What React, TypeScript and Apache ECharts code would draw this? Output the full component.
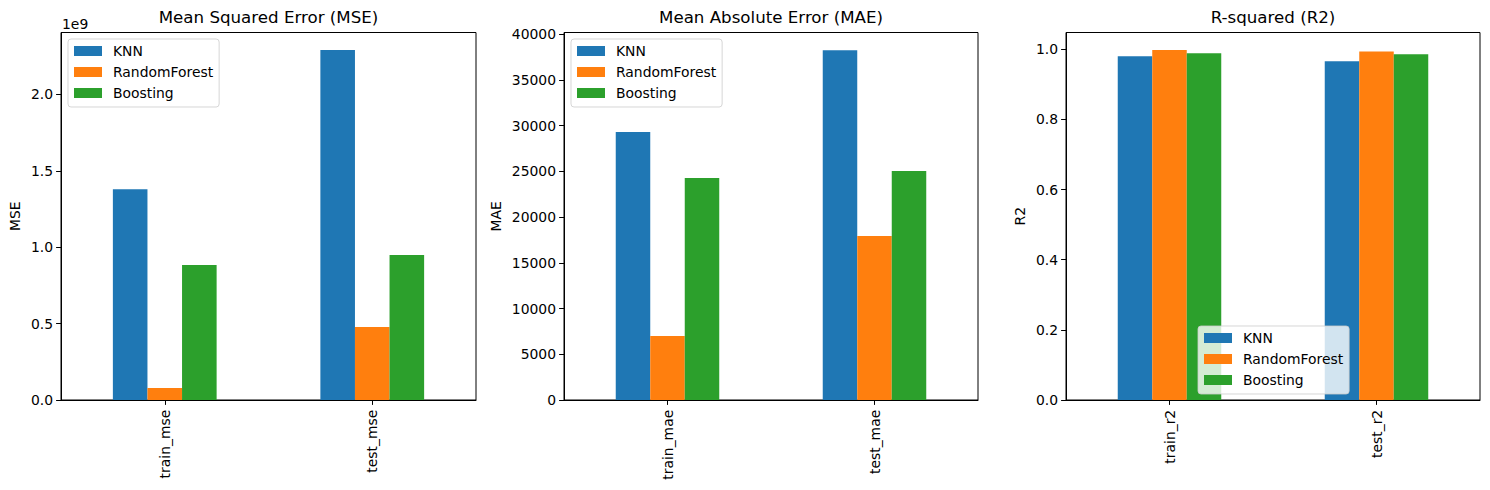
import React, { useEffect, useRef } from "react";
import * as echarts from "echarts";

const seriesNames = ["KNN", "RandomForest", "Boosting"];
const colors = ["#1f77b4", "#ff7f0e", "#2ca02c"];

const catMSE = ["train_mse", "test_mse"];
const knnMSE = [1.38e9, 2.29e9];
const rfMSE = [0.079e9, 0.478e9];
const boostMSE = [0.884e9, 0.949e9];

const catMAE = ["train_mae", "test_mae"];
const knnMAE = [29320, 38270];
const rfMAE = [7000, 17940];
const boostMAE = [24290, 25050];

const catR2 = ["train_r2", "test_r2"];
const knnR2 = [0.98, 0.966];
const rfR2 = [0.998, 0.994];
const boostR2 = [0.989, 0.986];

const titles = ["Mean Squared Error (MSE)", "Mean Absolute Error (MAE)", "R-squared (R2)"];
const yNames = ["MSE", "MAE", "R2"];

const FONT = "DejaVu Sans";
const FS = 13.9;

export default function App() {
  const ref = useRef<HTMLDivElement>(null);
  useEffect(() => {
    if (!ref.current) return;
    const chart = echarts.init(ref.current, undefined, { renderer: "svg" });
    const grids = [
      { left: 61, top: 32.5, width: 415, height: 367.5 },
      { left: 564, top: 32.5, width: 414, height: 367.5 },
      { left: 1066, top: 32.5, width: 414, height: 367.5 },
    ];
    const cats = [catMSE, catMAE, catR2];
    const data = [
      [knnMSE, rfMSE, boostMSE],
      [knnMAE, rfMAE, boostMAE],
      [knnR2, rfR2, boostR2],
    ];
    const yCfg = [
      { max: 2.405e9, interval: 0.5e9, fmt: (v: number) => (v / 1e9).toFixed(1), step: 0.5e9 },
      { max: 40200, interval: 5000, fmt: (v: number) => String(Math.round(v)), step: 5000 },
      { max: 1.048, interval: 0.2, fmt: (v: number) => v.toFixed(1), step: 0.2 },
    ];
    const nameGaps = [39, 61, 39];
    const legendPos = [
      { left: 68, top: 39 },
      { left: 571, top: 39 },
      { left: 1198, top: 326 },
    ];

    const series: any[] = [];
    data.forEach((grp, gi) => {
      grp.forEach((vals, si) => {
        series.push({
          type: "bar",
          name: seriesNames[si],
          xAxisIndex: gi,
          yAxisIndex: gi,
          data: vals,
          barWidth: "16.667%",
          barGap: "0%",
          itemStyle: { color: colors[si] },
        });
      });
    });

    const option: any = {
      animation: false,
      textStyle: { fontFamily: FONT },
      grid: grids.map((g) => ({
        ...g,
        show: true,
        borderColor: "#000",
        borderWidth: 1,
        backgroundColor: "#fff",
      })),
      xAxis: cats.map((c, i) => ({
        type: "category",
        gridIndex: i,
        data: c,
        boundaryGap: true,
        axisLine: { show: true, lineStyle: { color: "#000", width: 1 } },
        axisTick: { show: true, alignWithLabel: true, length: 4.9, lineStyle: { color: "#000" } },
        axisLabel: {
          rotate: 90,
          margin: 9.8,
          color: "#000",
          fontFamily: FONT,
          fontSize: FS,
        },
        splitLine: { show: false },
      })),
      yAxis: yCfg.map((y, i) => ({
        type: "value",
        gridIndex: i,
        min: 0,
        max: y.max,
        interval: y.interval,
        name: yNames[i],
        nameLocation: "middle",
        nameGap: nameGaps[i],
        nameRotate: 90,
        nameTextStyle: { color: "#000", fontFamily: FONT, fontSize: FS },
        axisLine: { show: true, lineStyle: { color: "#000", width: 1 } },
        axisTick: { show: true, length: 4.9, lineStyle: { color: "#000" } },
        axisLabel: {
          margin: 8,
          color: "#000",
          fontFamily: FONT,
          fontSize: FS,
          showMaxLabel: false,
          formatter: (v: number) => {
            const r = v / y.step;
            return Math.abs(r - Math.round(r)) < 1e-6 ? y.fmt(v) : "";
          },
        },
        splitLine: { show: false },
      })),
      legend: legendPos.map((p) => ({
        ...p,
        orient: "vertical",
        data: seriesNames,
        itemWidth: 28,
        itemHeight: 10,
        itemGap: 7,
        padding: [5, 6, 7, 6],
        backgroundColor: "rgba(255,255,255,0.8)",
        borderColor: "rgba(204,204,204,0.8)",
        borderWidth: 1,
        borderRadius: 3,
        icon: "rect",
        selectedMode: false,
        textStyle: {
          color: "#000",
          fontFamily: FONT,
          fontSize: FS,
          padding: [0, 0, 0, 6],
        },
      })),
      graphic: [
        ...titles.map((t, i) => ({
          type: "text",
          x: grids[i].left + grids[i].width / 2,
          y: 17,
          style: {
            text: t,
            fill: "#000",
            font: `16.67px "${FONT}"`,
            textAlign: "center",
            textVerticalAlign: "middle",
          },
        })),
        {
          type: "text",
          x: 62,
          y: 24,
          style: {
            text: "1e9",
            fill: "#000",
            font: `${FS}px "${FONT}"`,
            textAlign: "left",
            textVerticalAlign: "middle",
          },
        },
      ],
      series,
    };
    chart.setOption(option);
    return () => chart.dispose();
  }, []);
  return (
    <div
      ref={ref}
      style={{ position: "fixed", left: 0, top: 0, width: 1490, height: 490, background: "#fff" }}
    />
  );
}
